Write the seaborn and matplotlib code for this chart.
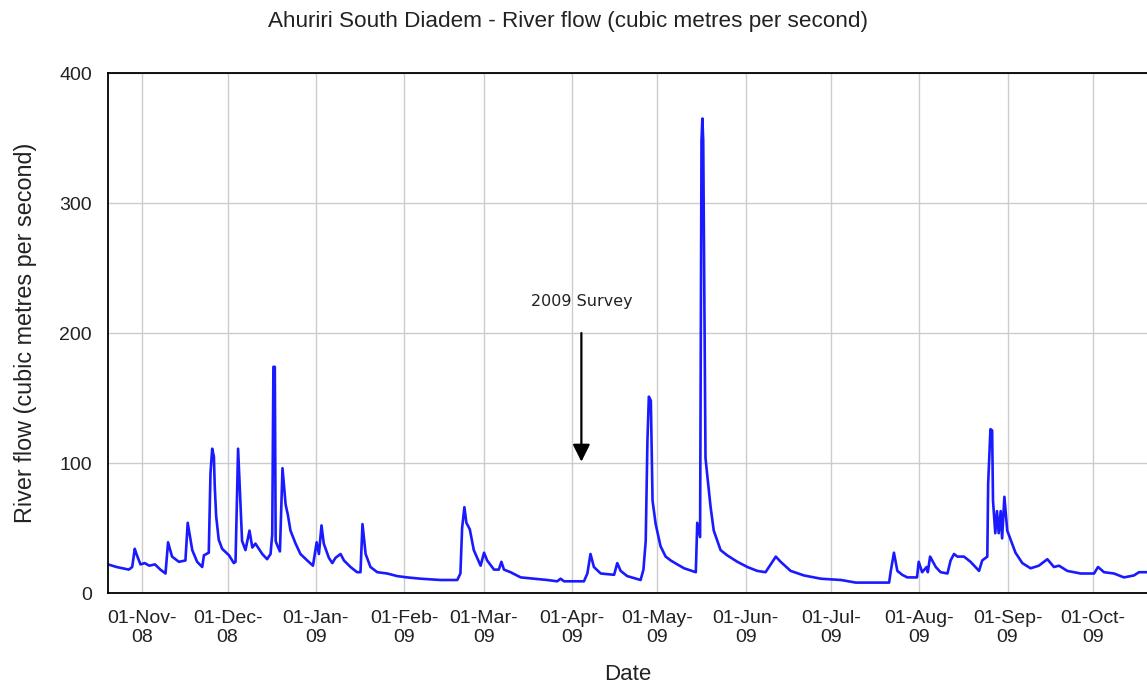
import matplotlib
matplotlib.use("Agg")
import matplotlib.pyplot as plt
import matplotlib.dates as mdates
import numpy as np
import pandas as pd
import seaborn as sns

# ---- data (days after 20-Oct-2008, flow m3/s) ----
start_date = "2008-10-20"
end_date = "2009-10-20"
day_offset = [
    0, 3, 7.3, 8.5, 9.4, 10, 11.4, 12.9, 14.5, 16.5, 18.4, 20.2, 21.1, 22.5, 24.9,
    27.2, 28.0, 29.6, 31.3, 33.1, 33.7, 35.4, 36.0, 36.6, 37.2, 37.5, 38.0, 38.9,
    40.1, 42.5, 44.2, 44.8, 45.7, 46.6, 47.1, 48.3, 49.7, 50.7, 51.8, 53.0, 54.2,
    55.9, 57.1, 57.7, 58.1, 58.6, 58.9, 59.4, 60.4, 61.3, 62.4, 63.2, 64.1, 65.9,
    67.6, 70.0, 72.0, 73.3, 74.1, 75.0, 75.8, 77.6, 78.8, 79.9, 81.7, 82.9, 85.2,
    87.5, 88.7, 89.4, 90.5, 92.2, 94.6, 98.1, 101.6, 105.1, 109.8, 116.8, 122.7,
    123.8, 124.4, 125.2, 125.9, 127.1, 128.5, 129.1, 130.9, 132.1, 133.2, 135.6,
    137.3, 138.2, 139.1, 141.4, 145.0, 149.6, 154.3, 157.8, 159.0, 160.2, 167.2,
    168.4, 169.5, 170.7, 173.1, 177.8, 178.9, 180.1, 182.4, 187.1, 188.1, 188.9,
    189.5, 190.0, 190.7, 191.3, 192.4, 194.1, 195.9, 197.7, 200.0, 202.4, 206.5,
    207.0, 208.0, 208.5, 208.8, 209.1, 209.3, 209.6, 209.9, 210.5, 211.7, 212.8,
    215.2, 217.5, 221.1, 224.6, 228.1, 231.0, 232.8, 234.6, 236.3, 239.8, 244.5,
    250.4, 257.5, 262.7, 274.4, 275.0, 276.1, 277.3, 279.0, 280.8, 284.2, 284.8,
    286.0, 287.6, 288.0, 288.8, 290.8, 292.5, 294.9, 296.0, 297.2, 298.4, 300.7,
    303.0, 306.0, 307.1, 308.9, 309.2, 310.0, 310.6, 310.9, 311.7, 312.3, 312.9,
    313.6, 314.1, 314.9, 315.9, 317.1, 318.8, 321.2, 324.1, 327.0, 330.0, 332.3,
    334.1, 337.0, 341.7, 346.4, 347.8, 349.9, 353.4, 356.9, 360.4, 362.2, 365.3,
]
flow = [
    22, 20, 18, 20, 34, 30, 22, 23, 21, 22, 18, 15, 39, 28, 24,
    25, 54, 33, 24, 20, 29, 31, 92, 111, 105, 82, 59, 41,
    34, 29, 23, 24, 111, 66, 40, 33, 48, 35, 38, 34, 30,
    26, 30, 45, 174, 174, 40, 37, 32, 96, 68, 60, 48, 38,
    30, 25, 21, 39, 30, 52, 38, 27, 23, 27, 30, 25, 20,
    16, 16, 53, 30, 20, 16, 15, 13, 12, 11, 10, 10,
    15, 50, 66, 54, 49, 33, 30, 21, 31, 25, 18,
    18, 24, 18, 16, 12, 11, 10, 9, 11, 9, 9,
    15, 30, 20, 15, 14, 23, 17, 13, 10, 18, 40,
    117, 151, 148, 71, 53, 36, 28, 25, 22, 19, 16,
    54, 43, 348, 365, 348, 285, 181, 104, 91, 66, 48,
    33, 29, 24, 20, 17, 16, 22, 28, 24, 17, 13.5,
    11, 10, 8, 8, 17, 31, 17, 14, 12, 12, 24,
    16, 20, 16, 28, 20, 16, 15, 25, 30, 28, 28,
    24, 17, 25, 28, 84, 126, 125, 71, 46, 63, 46,
    63, 42, 74, 48, 41, 31, 23, 19, 21, 26, 20,
    21, 17, 15, 15, 20, 16, 15, 12, 13.5, 16, 16,
]
y_ticks = [0, 100, 200, 300, 400]
survey_label = "2009 Survey"
survey_day = 166.3
survey_arrow_from = 200
survey_arrow_to = 101
survey_text_y = 224

title = "Ahuriri South Diadem - River flow (cubic metres per second)"
x_label = "Date"
y_label = "River flow (cubic metres per second)"

# ---- build frame ----
t0 = pd.Timestamp(start_date)
df = pd.DataFrame({
    "date": t0 + pd.to_timedelta(day_offset, unit="D"),
    "flow": flow,
})

sns.set_style("white")
plt.rcParams["font.family"] = ["Liberation Sans", "DejaVu Sans"]

fig = plt.figure(figsize=(11.47, 6.90), dpi=100)
ax = fig.add_axes([108 / 1147, 1 - 593 / 690, 1 - 108 / 1147, (593 - 73) / 690])

sns.lineplot(data=df, x="date", y="flow", ax=ax, color="#1a1aff",
             linewidth=1.9, estimator=None, sort=True)

ax.set_xlim(pd.Timestamp(start_date), pd.Timestamp(end_date))
ax.set_ylim(0, 400)
ax.set_yticks(y_ticks)

ax.xaxis.set_major_locator(mdates.MonthLocator(bymonthday=1))
ax.xaxis.set_major_formatter(mdates.DateFormatter("%d-%b-\n%y"))

ax.grid(True, color="#cccccc", linewidth=1.0)
ax.set_axisbelow(True)

for side in ["left", "bottom", "top"]:
    ax.spines[side].set_visible(True)
    ax.spines[side].set_color("black")
    ax.spines[side].set_linewidth(1.3)
ax.spines["right"].set_visible(False)

ax.tick_params(axis="x", direction="out", length=5, width=1.2, pad=7,
               labelsize=14, colors="black", labelcolor="#222222")
ax.tick_params(axis="y", direction="out", length=9, width=1.2, pad=2.5,
               labelsize=14, colors="black", labelcolor="#222222")

ax.set_xlabel(x_label, fontsize=16, labelpad=13, color="#222222")
ax.set_ylabel(y_label, fontsize=16.8, labelpad=16, color="#222222")
fig.text(568 / 1147, 1 - 21 / 690, title, ha="center", va="center",
         fontsize=16.2, color="#222222")

survey_date = t0 + pd.to_timedelta(survey_day, unit="D")
ax.annotate("", xy=(survey_date, survey_arrow_to),
            xytext=(survey_date, survey_arrow_from),
            arrowprops=dict(arrowstyle="-|>", color="black", lw=1.6,
                            mutation_scale=26, shrinkA=0, shrinkB=0))
ax.text(survey_date, survey_text_y, survey_label, ha="center", va="center",
        fontsize=11.5, family=["DejaVu Sans"], color="#222222")

fig.canvas.draw()
for tick in ax.xaxis.get_major_ticks():
    tick.label1.set_linespacing(1.15)
    tick.label1.set_horizontalalignment("center")

fig.savefig("out.png", dpi=100)
